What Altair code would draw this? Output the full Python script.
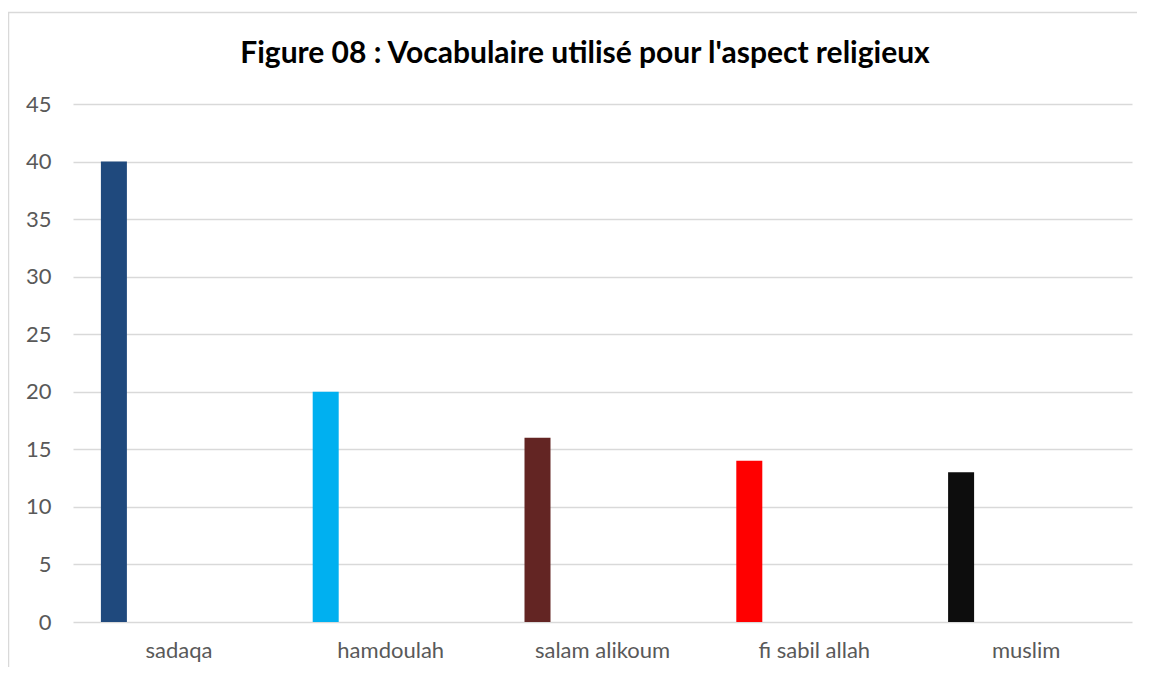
import altair as alt
import pandas as pd

categories = ["sadaqa", "hamdoulah", "salam alikoum", "fi sabil allah", "muslim"]
values = [40, 20, 16, 14, 13]
colors = ["#1F497D", "#00B0F0", "#632523", "#FF0000", "#0D0D0D"]
title_text = "Figure 08 : Vocabulaire utilisé pour l'aspect religieux"

df = pd.DataFrame({"mot": categories, "valeur": values})

FONT = "Lato"

bars = alt.Chart(df).mark_bar(width=26, xOffset=-65).encode(
    x=alt.X("mot:N", sort=categories,
            scale=alt.Scale(paddingInner=0, paddingOuter=0),
            axis=alt.Axis(title=None, labelAngle=0, domain=False, ticks=False,
                          labelFont=FONT, labelFontSize=22, labelColor="#595959",
                          labelPadding=18, grid=False)),
    y=alt.Y("valeur:Q", scale=alt.Scale(domain=[0, 45], nice=False),
            axis=alt.Axis(title=None, values=list(range(0, 46, 5)), domain=False, ticks=False,
                          labelFont=FONT, labelFontSize=22, labelColor="#595959",
                          labelPadding=22, gridColor="#D9D9D9", gridWidth=1.5)),
    color=alt.Color("mot:N", scale=alt.Scale(domain=categories, range=colors), legend=None),
)

one = pd.DataFrame({"t": [title_text]})

border = alt.Chart(one).mark_rect(
    fill=None, stroke="#D9D9D9", strokeWidth=1.5
).encode(
    x=alt.value(-64.5), x2=alt.value(1100), y=alt.value(-91.5), y2=alt.value(600)
)

title = alt.Chart(one).mark_text(
    font=FONT, fontSize=30, fontWeight="bold", color="#000000",
    align="center", baseline="alphabetic"
).encode(
    text="t:N", x=alt.value(512), y=alt.value(-41)
)

chart = alt.layer(border, bars, title).properties(
    width=1059, height=518,
    autosize=alt.AutoSizeParams(type="none"),
    padding={"left": 65, "top": 96, "right": 5, "bottom": 45},
).configure_view(stroke=None)

chart.save("out.html", embed_options={"renderer": "svg", "actions": False})
